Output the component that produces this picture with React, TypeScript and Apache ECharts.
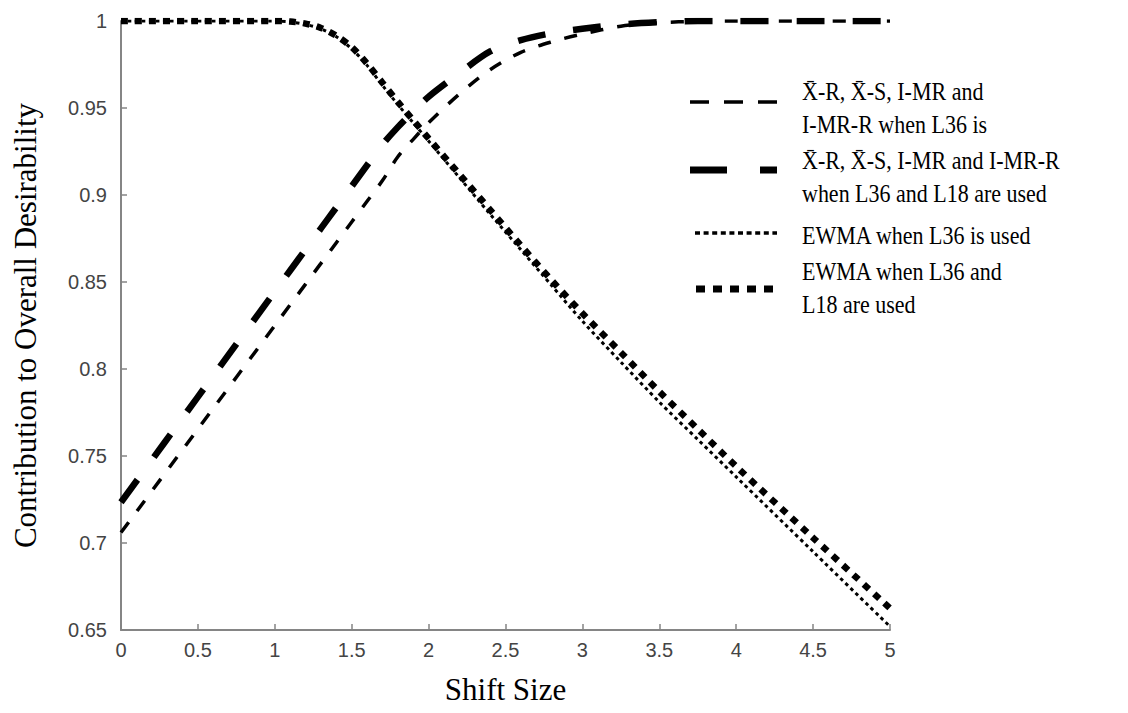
import React, { useEffect, useRef } from "react";
import * as echarts from "echarts";

// Shift sizes (x values shared by all series)
const shiftSizes = [0, 0.5, 1, 1.1, 1.2, 1.3, 1.4, 1.5, 1.6, 1.7, 1.8, 1.9, 2.0, 2.2, 2.4, 2.6, 2.8, 3.0, 3.25, 3.5, 3.75, 4.0, 4.5, 5.0];

// X̄-R, X̄-S, I-MR and I-MR-R when L36 is used
const xrL36 = [0.706, 0.7655, 0.825, 0.8369, 0.8488, 0.8607, 0.8726, 0.8845, 0.8964, 0.9083, 0.922, 0.932, 0.9415, 0.958, 0.972, 0.982, 0.988, 0.9925, 0.997, 0.999, 0.9998, 1, 1, 1];

// X̄-R, X̄-S, I-MR and I-MR-R when L36 and L18 are used
const xrL36L18 = [0.7234, 0.784, 0.8445, 0.8566, 0.8687, 0.8808, 0.8929, 0.905, 0.9171, 0.929, 0.939, 0.948, 0.9565, 0.97, 0.9825, 0.989, 0.993, 0.9955, 0.998, 0.9993, 1, 1, 1, 1];

// EWMA when L36 is used
const ewmaL36 = [1, 1, 1, 0.9995, 0.998, 0.9955, 0.991, 0.984, 0.9745, 0.963, 0.952, 0.9415, 0.931, 0.91, 0.889, 0.8685, 0.848, 0.8275, 0.804, 0.781, 0.7595, 0.738, 0.695, 0.652];

// EWMA when L36 and L18 are used
const ewmaL36L18 = [1, 1, 1, 0.9997, 0.9985, 0.996, 0.9915, 0.985, 0.9755, 0.9645, 0.9535, 0.943, 0.9325, 0.912, 0.8915, 0.871, 0.851, 0.832, 0.8095, 0.787, 0.7655, 0.744, 0.703, 0.6625];

const legendLines = [
  ["X\u0304-R, X\u0304-S, I-MR and", "I-MR-R when L36 is"],
  ["X\u0304-R, X\u0304-S, I-MR and I-MR-R", "when L36 and L18 are used"],
  ["EWMA when L36 is used"],
  ["EWMA when L36 and", "L18 are used"],
];

const xTitle = "Shift Size";
const yTitle = "Contribution to Overall Desirability";

const pair = (ys: number[]) => shiftSizes.map((x, i) => [x, ys[i]]);

export default function App() {
  const ref = useRef<HTMLDivElement>(null);

  useEffect(() => {
    if (!ref.current) return;
    const chart = echarts.init(ref.current, null, { renderer: "svg" });

    const serif = "Liberation Serif";
    const sans = "Liberation Sans";
    const axisGrey = "#858585";

    const lineSeries = (name: string, data: number[], width: number, dash: number[]) => ({
      type: "line",
      name,
      data: pair(data),
      showSymbol: false,
      symbol: "none",
      smooth: 0.3,
      lineStyle: { color: "#000", width, type: dash, cap: "butt" },
      z: 3,
    });

    // legend graphics
    const sampleX2 = 777;
    const textX = 802;
    const sampleYs = [102, 170, 233, 289];
    const textYs = [[92, 125], [161, 194], [236], [272, 305]];
    const sampleStyles = [
      { w: 3.5, dash: [19, 15], x1: 690 },
      { w: 7, dash: [37, 33], x1: 690 },
      { w: 3.5, dash: [5, 3.6], x1: 695 },
      { w: 7, dash: [9, 8], x1: 696 },
    ];
    const graphics: any[] = [];
    legendLines.forEach((lines, i) => {
      const s = sampleStyles[i];
      graphics.push({
        type: "line",
        shape: { x1: s.x1, y1: sampleYs[i], x2: sampleX2, y2: sampleYs[i] },
        style: { stroke: "#000", lineWidth: s.w, lineDash: s.dash, lineCap: "butt" },
      });
      lines.forEach((t, j) => {
        graphics.push({
          type: "text",
          x: textX,
          y: textYs[i][j],
          scaleY: 1.12,
          style: {
            text: t,
            fontFamily: serif,
            fontSize: 22,
            fill: "#000",
            verticalAlign: "middle",
            align: "left",
          },
        });
      });
    });

    chart.setOption({
      animation: false,
      backgroundColor: "#fff",
      grid: { left: 121, right: 238, top: 21, bottom: 83, containLabel: false },
      xAxis: {
        type: "value",
        min: 0,
        max: 5,
        interval: 0.5,
        name: xTitle,
        nameLocation: "middle",
        nameGap: 44,
        nameTextStyle: { fontFamily: serif, fontSize: 31, color: "#000" },
        axisLine: { show: true, lineStyle: { color: axisGrey, width: 2 } },
        axisTick: { show: true, inside: true, length: 6, lineStyle: { color: axisGrey, width: 1.5 } },
        axisLabel: {
          fontFamily: sans,
          fontSize: 20,
          color: "#444",
          margin: 10,
          formatter: (v: number) => String(parseFloat(v.toFixed(2))),
        },
        splitLine: { show: false },
      },
      yAxis: {
        type: "value",
        min: 0.65,
        max: 1,
        interval: 0.05,
        name: yTitle,
        nameLocation: "middle",
        nameGap: 80,
        nameRotate: 90,
        nameTextStyle: { fontFamily: serif, fontSize: 31, color: "#000" },
        axisLine: { show: true, lineStyle: { color: axisGrey, width: 2 } },
        axisTick: { show: true, inside: true, length: 6, lineStyle: { color: axisGrey, width: 1.5 } },
        axisLabel: {
          fontFamily: sans,
          fontSize: 20,
          color: "#444",
          margin: 14,
          formatter: (v: number) => String(parseFloat(v.toFixed(2))),
        },
        splitLine: { show: false },
      },
      series: [
        lineSeries(legendLines[0].join(" "), xrL36, 3.5, [13, 14]),
        lineSeries(legendLines[1].join(" "), xrL36L18, 6.5, [28, 28]),
        lineSeries(legendLines[2].join(" "), ewmaL36, 3, [3.5, 3.5]),
        lineSeries(legendLines[3].join(" "), ewmaL36L18, 6.5, [7, 7]),
      ],
      graphic: graphics,
    });

    return () => chart.dispose();
  }, []);

  return (
    <div
      ref={ref}
      style={{ position: "fixed", left: 0, top: 0, width: 1128, height: 713, background: "#fff" }}
    />
  );
}
